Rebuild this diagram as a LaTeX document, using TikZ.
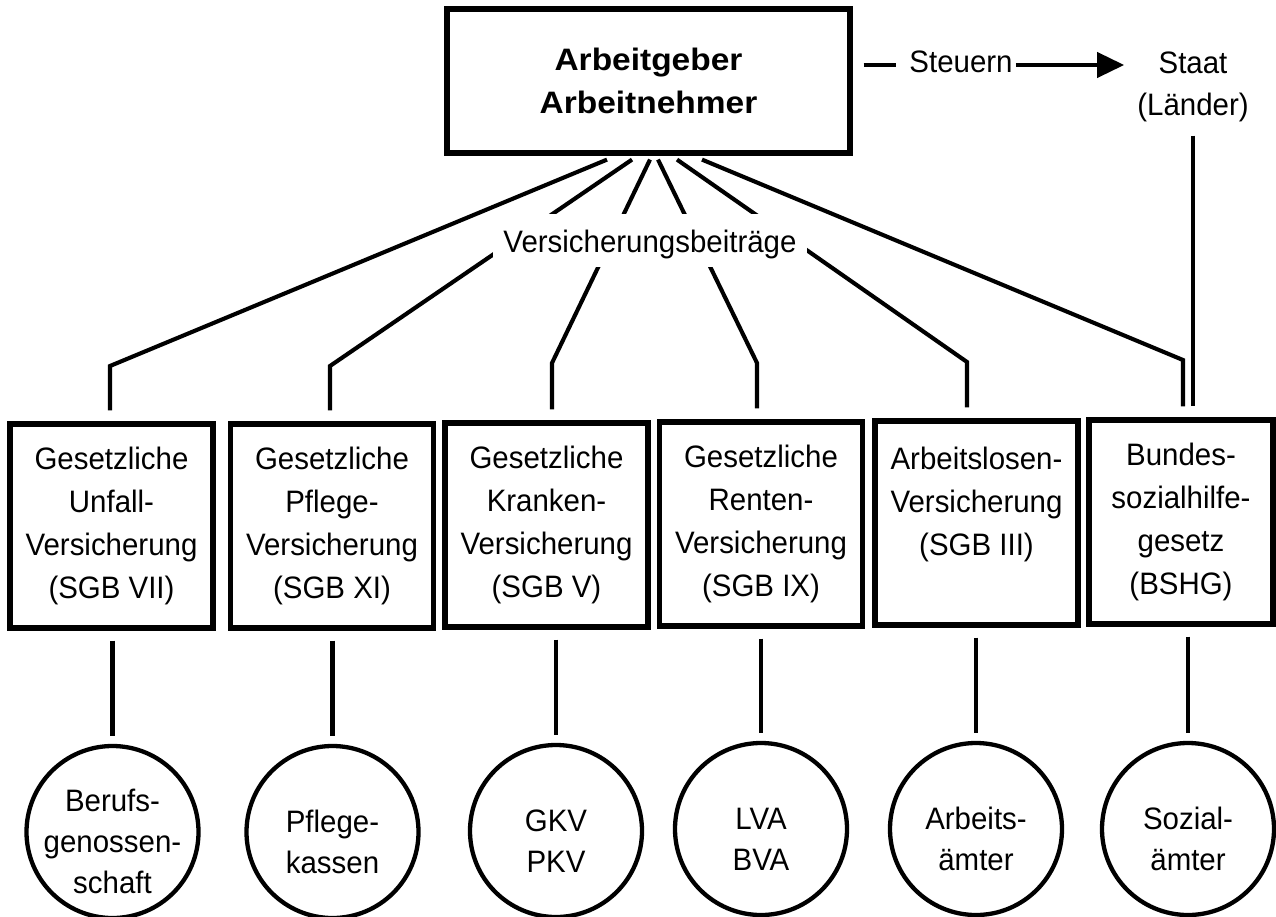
\documentclass[tikz,border=0pt]{standalone}
\usepackage{fontspec}
\setmainfont{Liberation Sans}[FakeStretch=0.95]
\newfontfamily\widebold{Liberation Sans}[FakeStretch=1.08]
\usetikzlibrary{arrows.meta}
\newcommand{\circtext}[1]{\raisebox{-19pt}[0pt][0pt]{\begin{tabular}{@{}c@{}}#1\end{tabular}}}
\begin{document}
\begin{tikzpicture}[x=1pt,y=-1pt,
  conn/.style={line width=4.1pt},
  ibox/.style={draw, line width=5.2pt, rectangle, minimum width=203pt, minimum height=204pt, inner sep=0pt, align=center, font=\fontsize{31}{43}\selectfont},
  org/.style={draw, circle, line width=4.3pt, minimum size=172pt, inner sep=0pt, font=\fontsize{31}{41}\selectfont},
  txt/.style={inner sep=0pt, align=center, font=\fontsize{31}{42}\selectfont}]
\useasboundingbox (0,0) rectangle (1276,917);

% top box
\node[draw, line width=5.2pt, minimum width=403pt, minimum height=144pt, inner sep=0pt, align=center,
      font=\fontsize{31}{43}\widebold\bfseries] (top) at (648.5,81) {Arbeitgeber\\Arbeitnehmer};

% taxes
\node[txt, anchor=base] (steu) at (961,73) {Steuern};
\node[txt] (staat) at (1193,86.5) {Staat\\(Länder)};
\coordinate (sy) at ([yshift=8pt]steu.base west);
\coordinate (se) at ([yshift=8pt]steu.base east);
\draw[conn, shorten <=11pt, shorten >=13pt] (top.east |- sy) -- (sy);
\draw[conn, -{Triangle[length=27pt,width=25pt]}, shorten <=3pt, shorten >=13pt] (se) -- (se -| staat.west);

% insurance boxes
\node[ibox] (b1) at (111.5,526) {Gesetzliche\\Unfall-\\Versicherung\\(SGB VII)};
\node[ibox] (b2) at (332,526) {Gesetzliche\\Pflege-\\Versicherung\\(SGB XI)};
\node[ibox] (b3) at (546.5,525) {Gesetzliche\\Kranken-\\Versicherung\\(SGB V)};
\node[ibox] (b4) at (761,524) {Gesetzliche\\Renten-\\Versicherung\\(SGB IX)};
\node[ibox] (b5) at (976.5,523) {Arbeitslosen-\\Versicherung\\(SGB III)\\\mbox{}};
\node[ibox, minimum width=184pt] (b6) at (1181,522) {Bundes-\\sozialhilfe-\\gesetz\\(BSHG)};

% institutions
\node[org] (c1) at (112.5,832) {\circtext{Berufs-\\genossen-\\schaft}};
\node[org] (c2) at (332.5,832) {\circtext{Pflege-\\kassen}};
\node[org] (c3) at (556,831) {\circtext{GKV\\PKV}};
\node[org] (c4) at (761,829) {\circtext{LVA\\BVA}};
\node[org] (c5) at (976,829) {\circtext{Arbeits-\\ämter}};
\node[org] (c6) at (1188,829) {\circtext{Sozial-\\ämter}};

% Staat -> BSHG
\draw[conn, shorten <=14pt, shorten >=11pt] (staat.south) -- (staat.south |- b6.north);

% fan of contributions
\coordinate (k1) at (110,366);
\coordinate (k2) at (330,366);
\coordinate (k3) at (552,363);
\coordinate (k4) at (757,363);
\coordinate (k5) at (967,362);
\coordinate (k6) at (1183,360);
\draw[conn, shorten >=11pt] ([xshift=-41.5pt,yshift=-4pt]top.south) -- (k1) -- (k1 |- b1.north);
\draw[conn, shorten >=11pt] ([xshift=-16.5pt,yshift=-4pt]top.south) -- (k2) -- (k2 |- b2.north);
\draw[conn, shorten >=11pt] ([xshift=1.5pt,yshift=-4pt]top.south) -- (k3) -- (k3 |- b3.north);
\draw[conn, shorten >=11pt] ([xshift=9.5pt,yshift=-4pt]top.south) -- (k4) -- (k4 |- b4.north);
\draw[conn, shorten >=11pt] ([xshift=28.5pt,yshift=-4pt]top.south) -- (k5) -- (k5 |- b5.north);
\draw[conn, shorten >=11pt] ([xshift=53.5pt,yshift=-4pt]top.south) -- (k6) -- (k6 |- b6.north);

\node[anchor=base, fill=white, inner xsep=10pt, inner ysep=0pt, text height=39pt, text depth=14pt,
      font=\fontsize{31}{43}\selectfont] (vb) at (650,253) {Versicherungsbeiträge};

% boxes -> institutions
\foreach \i in {1,...,6}{
  \draw[conn, shorten <=10pt, shorten >=8pt] (c\i |- b\i.south) -- (c\i.north);
}
\end{tikzpicture}
\end{document}
